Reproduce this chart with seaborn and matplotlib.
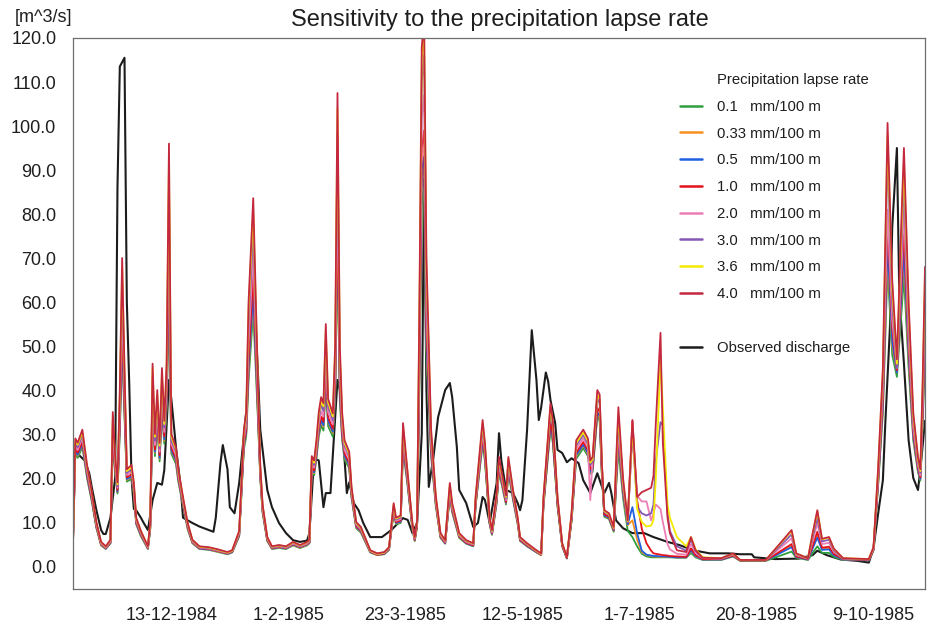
import matplotlib

matplotlib.use("Agg")

import matplotlib.dates as mdates
import matplotlib.pyplot as plt
import pandas as pd
import seaborn as sns
from matplotlib.lines import Line2D
from matplotlib.ticker import FixedFormatter, FixedLocator, FormatStrFormatter, MultipleLocator

START = pd.Timestamp("1984-11-01")

# simulated discharge, days since 1-11-1984
sim_day = [
    0, 1, 2, 3, 4, 5, 6, 8, 10, 12,
    14, 16, 17, 18, 19, 20, 21, 22, 23, 25,
    26, 27, 29, 32, 33, 34, 35, 36, 37, 38,
    39, 40, 41, 42, 44, 45, 47, 49, 51, 54,
    58, 62, 66, 68, 71, 73, 74, 75, 77, 79,
    80, 81, 83, 85, 88, 91, 94, 97, 100, 101,
    102, 103, 104, 105, 106, 107, 108, 109, 111, 112,
    113, 114, 115, 116, 118, 119, 121, 123, 127, 130,
    133, 135, 137, 138, 140, 141, 143, 145, 146, 147,
    148, 149, 150, 151, 153, 155, 157, 159, 161, 162,
    165, 168, 171, 172, 175, 176, 178, 179, 181, 182,
    184, 185, 186, 188, 190, 191, 194, 198, 200, 201,
    204, 205, 207, 209, 211, 213, 215, 218, 220, 221,
    222, 224, 225, 226, 227, 229, 231, 232, 233, 235,
    237, 239, 241, 243, 245, 247, 248, 249, 251, 252,
    254, 255, 258, 262, 264, 266, 269, 277, 282, 285,
    296, 307, 309, 314, 316, 318, 320, 323, 325, 329,
    340, 342, 344, 346, 348, 350, 352, 354, 355, 357,
    359, 361, 362, 363, 364,
]

sim_01 = [
    5.2, 25.6, 24.6, 25.8, 27, 23.7, 20, 14.8, 8.6, 4.7,
    3.9, 5.2, 28, 21.3, 16.5, 30.5, 49, 34, 19.2, 19.8,
    16.5, 9.5, 6.8, 3.9, 8.4, 35.5, 25, 32, 23.8, 35,
    27.8, 35.5, 60, 25.6, 23.2, 19.2, 13.7, 8.4, 5.2, 3.9,
    3.7, 3.2, 2.7, 3.1, 6.8, 26.5, 29.5, 42, 58, 33.5,
    20, 12.1, 5.7, 3.9, 4.1, 3.9, 4.7, 4.1, 4.7, 5.2,
    21.5, 20.6, 24.4, 29.5, 32, 30.8, 41, 31.8, 29.4, 38,
    71, 37.5, 28.6, 24.2, 22.3, 15.5, 8.6, 7.6, 3.1, 2.5,
    2.7, 3.7, 12.2, 9.5, 9.8, 26.8, 18, 8.4, 5.7, 8.9,
    41, 82, 86, 47, 25, 13.7, 6.4, 5.1, 16, 12.2,
    6.4, 5.1, 4.5, 13.6, 27.8, 23.8, 9.5, 7.1, 14.3, 21.4,
    16.5, 14, 21.4, 15, 9.5, 5.7, 4.5, 3.1, 2.5, 13.6,
    31.2, 28, 13.6, 4.5, 1.7, 10.2, 24.4, 26.8, 25, 21,
    21.4, 34, 33, 20, 11.2, 10.7, 7.8, 17.5, 26.4, 15.5,
    8, 6.6, 4.5, 2.8, 2.2, 2, 2, 2, 2, 2,
    2, 2, 1.9, 1.9, 3, 2, 1.4, 1.4, 2.2, 1.2,
    1.2, 3.3, 1.9, 1.4, 3, 4.5, 3, 3, 2.1, 1.4,
    1.3, 3.6, 18.5, 35, 68, 48, 43, 58, 66, 45,
    28.5, 21.3, 19.4, 32.5, 48,
]

sim_033 = [
    5.4, 26.1, 25.1, 26.3, 27.6, 24.2, 20.5, 15.1, 8.8, 4.8,
    4, 5.3, 28.7, 21.8, 16.8, 31.5, 51, 35, 19.6, 20.3,
    16.9, 9.7, 7, 4, 8.6, 37, 25.8, 33, 24.4, 36,
    28.5, 37, 65, 26.2, 23.8, 19.6, 14, 8.6, 5.3, 4,
    3.8, 3.3, 2.8, 3.2, 7, 27.2, 30.2, 44, 61, 34.5,
    20.4, 12.4, 5.8, 4, 4.2, 4, 4.8, 4.2, 4.8, 5.3,
    22, 21.1, 25, 30.3, 32.9, 31.7, 42.5, 32.7, 30.2, 39.5,
    75, 39, 29.4, 24.8, 22.8, 15.9, 8.8, 7.8, 3.2, 2.5,
    2.8, 3.8, 12.5, 9.7, 10, 27.5, 18.5, 8.6, 5.8, 9.1,
    43, 88, 91, 50, 25.8, 14, 6.6, 5.2, 16.4, 12.5,
    6.6, 5.2, 4.6, 13.9, 28.6, 24.4, 9.7, 7.2, 14.7, 21.9,
    16.9, 14.3, 21.9, 15.4, 9.7, 5.8, 4.6, 3.2, 2.5, 13.9,
    32, 28.7, 13.9, 4.6, 1.8, 10.4, 25, 27.4, 25.5, 21.4,
    21.9, 34.7, 33.8, 20.4, 11.4, 10.9, 8, 18.2, 28.5, 16.5,
    9.3, 10.4, 6, 3.2, 2.5, 2.3, 2.2, 2.2, 2.1, 2.1,
    2.2, 2.1, 2, 2, 3.5, 2.2, 1.5, 1.5, 2.3, 1.3,
    1.3, 4.6, 2.1, 1.5, 4.3, 7.2, 3.9, 4, 2.6, 1.5,
    1.4, 3.7, 19, 36, 71, 50, 44, 61, 70, 47,
    29.2, 21.8, 19.7, 33.5, 50,
]

sim_05 = [
    5.4, 26.3, 25.3, 26.5, 27.8, 24.3, 20.6, 15.2, 8.9, 4.9,
    4, 5.3, 29, 22, 16.9, 32, 52, 35.5, 19.8, 20.4,
    17, 9.8, 7.1, 4, 8.7, 37.5, 26, 33.5, 24.6, 36.5,
    28.8, 37.5, 66, 26.4, 24, 19.8, 14.1, 8.7, 5.4, 4,
    3.8, 3.4, 2.8, 3.2, 7, 27.4, 30.4, 45, 62, 35,
    20.6, 12.5, 5.9, 4, 4.3, 4, 4.9, 4.3, 4.9, 5.3,
    22.2, 21.3, 25.2, 30.6, 33.2, 32, 43, 33, 30.5, 40,
    77, 39.5, 29.6, 25, 23, 16, 8.9, 7.9, 3.2, 2.6,
    2.8, 3.8, 12.6, 9.8, 10.1, 27.8, 18.6, 8.7, 5.9, 9.2,
    44, 90, 93, 51, 26, 14.1, 6.7, 5.2, 16.5, 12.6,
    6.7, 5.2, 4.6, 14, 28.8, 24.6, 9.8, 7.3, 14.8, 22.1,
    17, 14.4, 22.1, 15.5, 9.8, 5.9, 4.6, 3.2, 2.6, 14,
    32.2, 28.9, 14, 4.6, 1.8, 10.5, 25.2, 27.6, 25.7, 21.5,
    22, 35, 34, 20.5, 11.5, 11, 8.1, 18.5, 29, 16.8,
    9.5, 13.4, 7.5, 3.5, 2.6, 2.4, 2.3, 2.3, 2.2, 2.2,
    2.2, 2.1, 2, 2, 3.6, 2.3, 1.5, 1.5, 2.3, 1.3,
    1.3, 4.3, 2.1, 1.5, 4, 6.5, 3.7, 3.8, 2.5, 1.5,
    1.4, 3.7, 19.2, 36.5, 73.6, 51, 44, 62, 72, 48,
    29.5, 22, 19.8, 34, 51,
]

sim_10 = [
    5.5, 26.8, 25.8, 27, 28.3, 24.8, 21, 15.5, 9.1, 5,
    4.1, 5.4, 30, 22.5, 17.3, 33.5, 55, 37, 20.2, 20.8,
    17.3, 10, 7.3, 4.1, 8.9, 39, 26.5, 34.5, 25.2, 38,
    29.5, 39, 74, 27, 24.5, 20.2, 14.4, 8.9, 5.5, 4.1,
    3.9, 3.4, 2.9, 3.3, 7.2, 28, 31, 47, 66, 36,
    21, 12.8, 6, 4.1, 4.4, 4.1, 5, 4.4, 5, 5.4,
    22.6, 21.7, 25.8, 31.3, 34, 32.8, 45, 33.8, 31.2, 41.5,
    82, 41, 30.4, 25.6, 23.5, 16.4, 9.1, 8.1, 3.3, 2.6,
    2.9, 3.9, 12.9, 10, 10.4, 28.6, 19, 8.9, 6, 9.4,
    46, 95, 99, 54, 26.8, 14.4, 6.8, 5.3, 16.9, 12.9,
    6.8, 5.3, 4.7, 14.3, 29.5, 25.2, 10, 7.5, 15.1, 22.5,
    17.3, 14.6, 22.5, 15.8, 10, 6, 4.7, 3.3, 2.6, 14.3,
    33, 29.6, 14.3, 4.7, 1.8, 10.8, 25.8, 28.2, 26.3, 22,
    22.5, 36, 35, 21, 11.8, 11.2, 8.3, 19.5, 30, 17.5,
    10, 33, 15, 8.5, 5.2, 3.5, 2.9, 2.8, 2.6, 2.5,
    2.4, 2.3, 2.2, 2.1, 4, 2.5, 1.6, 1.6, 2.4, 1.3,
    1.3, 5, 2.2, 1.6, 4.6, 7.8, 4.2, 4.4, 2.8, 1.6,
    1.4, 3.8, 19.8, 38, 78.6, 54, 44.5, 65, 77, 50,
    30.5, 22.5, 20.2, 35.5, 54,
]

sim_20 = [
    5.7, 27.4, 26.4, 27.8, 29, 25.4, 21.6, 16, 9.4, 5.1,
    4.2, 5.6, 31.5, 23.2, 17.8, 35.5, 59, 39.5, 20.7, 21.4,
    17.8, 10.3, 7.5, 4.2, 9.2, 41, 27.5, 36, 26, 40,
    30.5, 41, 80, 27.8, 25.2, 20.7, 14.8, 9.2, 5.6, 4.2,
    4, 3.5, 3, 3.4, 7.4, 28.8, 32.2, 51, 71, 37.5,
    21.6, 13.1, 6.2, 4.2, 4.5, 4.2, 5.1, 4.5, 5.1, 5.6,
    23.3, 22.4, 26.6, 32.3, 35.2, 34, 48, 35, 32.2, 44,
    89, 43.5, 31.6, 26.4, 24.2, 16.8, 9.4, 8.3, 3.4, 2.7,
    3, 4, 13.3, 10.3, 10.7, 29.8, 19.6, 9.2, 6.2, 9.7,
    50, 102, 107, 58, 28, 14.8, 7, 5.5, 17.4, 13.3,
    7, 5.5, 4.9, 14.7, 30.5, 26, 10.3, 7.7, 15.5, 23.1,
    17.7, 15, 23.1, 16.2, 10.3, 6.2, 4.9, 3.4, 2.7, 14.7,
    36.5, 32.6, 15.5, 5.1, 2, 11.2, 26.6, 29, 27, 15,
    24.5, 39, 38, 22.6, 12.5, 11.8, 8.5, 20.5, 31, 18.2,
    10, 30, 16, 14.7, 14.7, 10.4, 12, 14, 13, 10,
    5, 3.8, 2.8, 2.6, 5, 3, 1.8, 1.7, 2.6, 1.4,
    1.4, 6.3, 2.5, 1.7, 5.8, 9.8, 5, 5.3, 3.3, 1.7,
    1.5, 4, 20.5, 40, 81, 56, 45, 68, 81, 52,
    31.5, 23, 20.6, 37, 57,
]

sim_30 = [
    5.8, 28, 27, 28.4, 29.8, 26, 22, 16.3, 9.6, 5.3,
    4.3, 5.8, 33, 24, 18.2, 37.5, 64, 42, 21.2, 22,
    18.2, 10.6, 7.7, 4.3, 9.5, 43, 28.5, 37.5, 26.8, 42,
    31.5, 43, 87, 28.6, 26, 21.2, 15.1, 9.4, 5.8, 4.3,
    4.1, 3.6, 3.1, 3.5, 7.6, 29.6, 33.4, 55, 77, 39.5,
    22.1, 13.5, 6.4, 4.3, 4.6, 4.3, 5.3, 4.6, 5.3, 5.8,
    24, 23, 27.4, 33.5, 36.6, 35.3, 51, 36.3, 33.2, 47,
    98, 46.5, 33, 27.4, 25, 17.2, 9.6, 8.5, 3.5, 2.8,
    3.1, 4.1, 13.7, 10.6, 11, 31, 20.2, 9.4, 6.4, 10,
    55, 110, 116, 63, 29.3, 15.2, 7.2, 5.7, 18, 13.7,
    7.2, 5.7, 5, 15.1, 31.6, 26.8, 10.6, 7.9, 15.9, 23.8,
    18.2, 15.4, 23.8, 16.6, 10.6, 6.4, 5, 3.5, 2.8, 15.1,
    35.4, 31.6, 15.1, 5, 1.9, 11.5, 27.4, 29.8, 27.8, 23,
    23.8, 38, 37, 22, 12.3, 11.6, 8.6, 21.5, 33, 18.8,
    10, 31, 13.5, 12, 11.5, 12, 14, 24, 32.7, 32,
    12, 8, 4.5, 3.5, 6, 3.4, 1.9, 1.7, 2.7, 1.4,
    1.4, 7.2, 2.7, 1.7, 6.5, 11, 5.6, 6, 3.6, 1.7,
    1.5, 4.1, 21.3, 42, 94, 60, 45, 73, 88, 55,
    33, 23.8, 21.2, 39, 62,
]

sim_36 = [
    6, 28.6, 27.6, 29, 30.5, 26.6, 22.6, 16.7, 9.8, 5.4,
    4.4, 5.9, 34.2, 24.5, 18.6, 39, 68, 44, 21.6, 22.5,
    18.6, 10.8, 7.9, 4.4, 9.8, 45, 29.4, 39, 27.4, 44,
    32.3, 45, 93, 29.4, 26.5, 21.6, 15.4, 9.6, 5.9, 4.4,
    4.2, 3.7, 3.1, 3.5, 7.8, 30.4, 34.3, 58, 81, 41,
    22.6, 13.7, 6.5, 4.4, 4.7, 4.4, 5.4, 4.7, 5.4, 5.9,
    24.5, 23.5, 28, 34.3, 37.6, 36.3, 53.5, 37.2, 34, 49,
    104, 48.5, 34, 28, 25.5, 17.6, 9.8, 8.7, 3.5, 2.8,
    3.1, 4.2, 14, 10.8, 11.3, 31.8, 20.6, 9.6, 6.5, 10.2,
    58, 115, 122, 67, 30.3, 15.6, 7.3, 5.8, 18.5, 14,
    7.3, 5.8, 5.1, 15.4, 32.5, 27.4, 10.8, 8, 16.3, 24.3,
    18.6, 15.7, 24.3, 17, 10.8, 6.5, 5.1, 3.5, 2.8, 15.4,
    36.2, 32.4, 15.4, 5.1, 2, 11.8, 28, 30.4, 28.4, 23.5,
    24.3, 39, 38, 22.5, 12.5, 11.8, 8.7, 22.5, 34.5, 19.4,
    10.2, 32, 13, 10, 9, 9.2, 10.5, 20, 47, 36,
    14, 11, 6.6, 4.5, 6.6, 3.8, 2, 1.8, 2.8, 1.4,
    1.4, 8, 2.8, 1.8, 7.3, 12.4, 6.1, 6.5, 3.9, 1.8,
    1.6, 4.2, 22, 44, 98, 63, 46, 77, 92, 58,
    34, 24.3, 21.6, 41, 66,
]

sim_40 = [
    6, 29, 28, 29.5, 31, 27, 23, 17, 10, 5.5,
    4.5, 6, 35, 25, 19, 40, 70, 45, 22, 23,
    19, 11, 8, 4.5, 10, 46, 30, 40, 28, 45,
    33, 46, 96, 30, 27, 22, 15.7, 9.8, 6, 4.5,
    4.3, 3.8, 3.2, 3.6, 8, 31, 35, 60, 83.6, 42,
    23, 14, 6.6, 4.5, 4.8, 4.5, 5.5, 4.8, 5.5, 6,
    25, 24, 28.6, 35, 38.4, 37, 55, 38, 34.7, 50,
    107.5, 50, 34.8, 28.6, 26, 18, 10, 8.9, 3.6, 2.9,
    3.2, 4.3, 14.3, 11, 11.5, 32.5, 21, 9.8, 6.6, 10.4,
    60, 118, 124, 70, 31, 16, 7.5, 5.9, 18.9, 14.3,
    7.5, 5.9, 5.2, 15.7, 33.2, 28, 11, 8.2, 16.6, 24.8,
    19, 16, 24.8, 17.3, 11, 6.6, 5.2, 3.6, 2.9, 15.7,
    37, 33, 15.7, 5.2, 2, 12, 28.6, 31, 29, 24,
    24.8, 40, 39, 23, 12.7, 12, 8.9, 23.4, 36.1, 20,
    10.4, 33.2, 15.7, 16.8, 17.3, 17.8, 20.5, 32.5, 53, 28,
    11, 7.5, 3.6, 3.2, 6.6, 3.6, 1.9, 1.8, 2.9, 1.4,
    1.4, 8.2, 2.9, 1.8, 7.5, 12.7, 6.2, 6.6, 4, 1.8,
    1.6, 4.3, 22.5, 45, 100.7, 65, 47, 80, 95, 60,
    34.8, 24.8, 22, 42, 68,
]

# observed discharge
obs_day = [
    0, 1, 3, 5, 7, 8, 10, 12, 13, 14,
    16, 18, 19, 20, 21, 22, 23, 24, 25, 26,
    27, 29, 30, 32, 34, 36, 38, 39, 41, 42,
    44, 46, 47, 49, 51, 54, 58, 60, 61, 63,
    64, 66, 67, 69, 71, 74, 76, 77, 78, 79,
    80, 83, 85, 88, 91, 94, 97, 100, 101, 103,
    105, 107, 108, 110, 113, 114, 117, 118, 120, 122,
    124, 127, 132, 136, 139, 141, 143, 145, 147, 149,
    150, 151, 152, 154, 156, 159, 161, 162, 164, 165,
    168, 171, 173, 175, 176, 178, 181, 182, 183, 185,
    188, 190, 191, 192, 194, 196, 198, 199, 200, 202,
    203, 204, 206, 207, 209, 211, 213, 216, 218, 221,
    224, 226, 227, 229, 230, 232, 235, 239, 244, 248,
    254, 259, 265, 272, 280, 285, 290, 291, 300, 310,
    316, 318, 322, 328, 335, 340, 342, 344, 346, 347,
    349, 350, 352, 353, 355, 357, 359, 361, 362, 364,
]
obs_q = [
    22, 26, 25, 24, 21, 18, 12.7, 8.2, 7.3, 7.3,
    11, 20, 86, 113.5, 114.5, 115.5, 60, 42, 20, 13,
    12.7, 11, 10, 8.2, 15, 18.9, 18.5, 21.8, 42.3, 38,
    27, 18, 11, 10.4, 9.8, 9, 8.2, 7.8, 11, 23.4,
    27.5, 22, 13.4, 12, 18.9, 35, 55, 62.7, 55, 44,
    31, 17.3, 13.4, 9.8, 7.5, 5.9, 5.5, 5.8, 7.5, 24.5,
    24, 13.4, 16.6, 16.6, 42.3, 40, 16.6, 19, 14.3, 12.7,
    9.8, 6.6, 6.6, 8.2, 9.8, 10.9, 10.5, 7.5, 9.8, 30,
    88, 40, 18, 24.8, 33.9, 40, 41.6, 38.4, 27, 17.3,
    14.3, 8.9, 9.8, 15.7, 15, 9.8, 18.9, 30.2, 24, 17.3,
    16.6, 14.3, 12.7, 15, 31, 53.6, 42.3, 33.2, 36, 44,
    42, 37.7, 32.5, 26.4, 25.7, 23.6, 24.5, 23.4, 19.5, 16.6,
    21.1, 18, 16.6, 18.9, 16.6, 10.4, 8.6, 7.5, 7.5, 6.6,
    5.5, 4.8, 3.6, 2.9, 2.9, 2.7, 2.7, 2, 1.6, 1.7,
    2.5, 3.5, 2.5, 1.5, 1.2, 0.8, 4, 12, 19.5, 32,
    54, 77, 95, 62, 46, 28.6, 20, 17.3, 21.8, 33,
]

series_labels = [
    "0.1   mm/100 m",
    "0.33 mm/100 m",
    "0.5   mm/100 m",
    "1.0   mm/100 m",
    "2.0   mm/100 m",
    "3.0   mm/100 m",
    "3.6   mm/100 m",
    "4.0   mm/100 m",
]
series_colors = ["#2e9e3e", "#f5901e", "#1f5fe0", "#e3121b", "#ec7fb4", "#8458b4", "#f4ea00", "#c4283e"]
obs_label = "Observed discharge"
legend_title = "Precipitation lapse rate"
major_ticks = ["13-12-1984", "1-2-1985", "23-3-1985", "12-5-1985", "1-7-1985", "20-8-1985", "9-10-1985"]

sim_values = [sim_01, sim_033, sim_05, sim_10, sim_20, sim_30, sim_36, sim_40]
for vals in sim_values:
    assert len(vals) == len(sim_day), len(vals)
assert len(obs_q) == len(obs_day)

sim = pd.DataFrame({"date": START + pd.to_timedelta(sim_day, unit="D")})
for lab, vals in zip(series_labels, sim_values):
    sim[lab] = vals
sim_long = sim.melt(id_vars="date", var_name="rate", value_name="q")
obs = pd.DataFrame({"date": START + pd.to_timedelta(obs_day, unit="D"), "q": obs_q})

sns.set_theme(style="white")
plt.rcParams["font.family"] = ["Liberation Sans", "DejaVu Sans"]
TXT = "#1e1e1e"
GREY = "#6e6e6e"

fig = plt.figure(figsize=(9.27, 6.31), dpi=100)
ax = fig.add_axes([73 / 927, 1 - 589 / 631, (925 - 73) / 927, (589 - 38) / 631])

sns.lineplot(data=obs, x="date", y="q", color="#1c1c1c", linewidth=1.5, ax=ax)
sns.lineplot(
    data=sim_long, x="date", y="q", hue="rate", hue_order=series_labels,
    palette=series_colors, linewidth=1.3, estimator=None, sort=False, legend=False, ax=ax,
)

ax.set_xlim(START, START + pd.Timedelta(days=364))
ax.set_ylim(-5.2, 120)
ax.set_xlabel("")
ax.set_ylabel("")

major_pos = mdates.date2num(pd.to_datetime(major_ticks, format="%d-%m-%Y"))
minor_pos = mdates.date2num(pd.date_range("1984-11-03", "1985-10-31", freq="10D"))
ax.xaxis.set_major_locator(FixedLocator(major_pos))
ax.xaxis.set_major_formatter(FixedFormatter(major_ticks))
ax.xaxis.set_minor_locator(FixedLocator(minor_pos))
ax.yaxis.set_major_locator(MultipleLocator(10))
ax.yaxis.set_minor_locator(MultipleLocator(5))
ax.yaxis.set_major_formatter(FormatStrFormatter("%.1f"))

ax.tick_params(axis="both", which="major", direction="out", length=6, width=0.8,
               color=GREY, labelsize=13, labelcolor=TXT)
ax.tick_params(axis="both", which="minor", direction="out", length=4, width=0.8, color=GREY)
ax.tick_params(axis="x", which="major", pad=7)
ax.tick_params(axis="y", which="major", pad=6)
for side in ["left", "bottom", "top", "right"]:
    ax.spines[side].set_visible(True)
    ax.spines[side].set_color(GREY)
    ax.spines[side].set_linewidth(0.9)

fig.text(0.539, 1 - 20 / 631, "Sensitivity to the precipitation lapse rate",
         ha="center", va="center", fontsize=17, color=TXT)
fig.text(15 / 927, 1 - 17 / 631, "[m^3/s]", ha="left", va="center", fontsize=13, color=TXT)

handles = [Line2D([], [], linestyle="none")]
labels = [legend_title]
for lab, col in zip(series_labels, series_colors):
    handles.append(Line2D([], [], color=col, linewidth=1.8))
    labels.append(lab)
handles.append(Line2D([], [], linestyle="none"))
labels.append(" ")
handles.append(Line2D([], [], color="#1c1c1c", linewidth=1.8))
labels.append(obs_label)

leg = ax.legend(
    handles, labels, loc="upper left", bbox_to_anchor=(680 / 927, 1 - 73 / 631),
    bbox_transform=fig.transFigure, frameon=False, fontsize=10.7, borderpad=0,
    borderaxespad=0, handlelength=1.5, handletextpad=1.0, labelspacing=0.86,
)
for t in leg.get_texts():
    t.set_color(TXT)

fig.savefig("out.png", dpi=100)
